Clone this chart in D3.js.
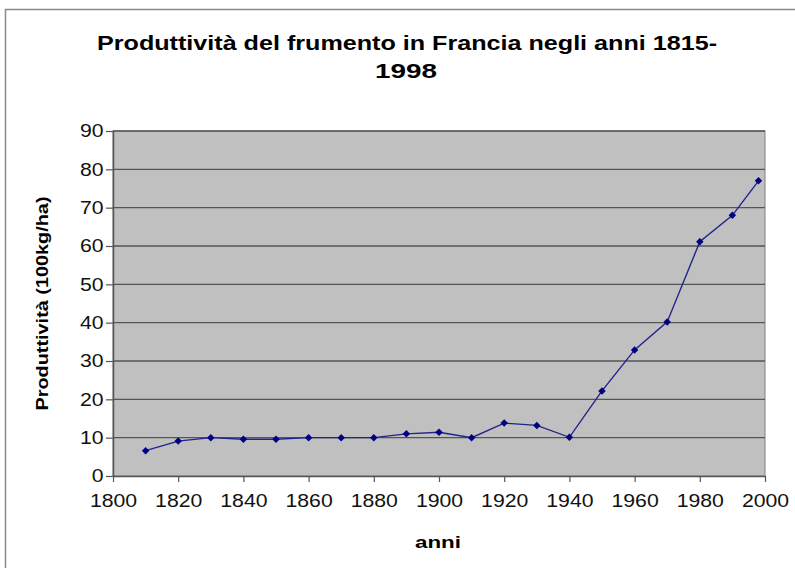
<!DOCTYPE html>
<html>
<head>
<meta charset="utf-8">
<script src="https://cdn.jsdelivr.net/npm/d3@7"></script>
<style>
  body { margin: 0; background: #fff; }
  text { font-family: "Liberation Sans", Arial, sans-serif; }
</style>
</head>
<body>
<div id="chart"></div>
<script>
// anni e produttività (100kg/ha)
var years = [1810, 1820, 1830, 1840, 1850, 1860, 1870, 1880, 1890, 1900,
             1910, 1920, 1930, 1940, 1950, 1960, 1970, 1980, 1990, 1998];
var yields = [6.6, 9.1, 10, 9.6, 9.6, 10, 10, 10, 11, 11.4,
              10, 13.8, 13.2, 10.1, 22.2, 32.9, 40.2, 61.1, 68, 77];
var xTicks = [1800, 1820, 1840, 1860, 1880, 1900, 1920, 1940, 1960, 1980, 2000];
var yTicks = [0, 10, 20, 30, 40, 50, 60, 70, 80, 90];

var width = 795, height = 568;
var margin = {left: 113, right: 30, top: 131, bottom: 92};

var svg = d3.select("#chart").append("svg")
            .attr("width", width)
            .attr("height", height);

// cornice esterna
svg.append("rect")
   .attr("x", 5.5).attr("y", 9.5)
   .attr("width", 820).attr("height", 620)
   .attr("fill", "none")
   .attr("stroke", "#8a8a8a")
   .attr("stroke-width", 1.5);

var x = d3.scaleLinear().domain([1800, 2000]).range([margin.left, width - margin.right]);
var y = d3.scaleLinear().domain([0, 90]).range([height - margin.bottom, margin.top]);

// area del grafico
svg.append("rect")
   .attr("x", x(1800)).attr("y", y(90))
   .attr("width", x(2000) - x(1800))
   .attr("height", y(0) - y(90))
   .attr("fill", "#c0c0c0")
   .attr("stroke", "#808080");

// griglia
svg.selectAll("line.grid")
   .data(yTicks.slice(1))
   .enter().append("line")
   .attr("class", "grid")
   .attr("x1", x(1800)).attr("x2", x(2000))
   .attr("y1", function(d) {return y(d)})
   .attr("y2", function(d) {return y(d)})
   .attr("stroke", "#555")
   .attr("stroke-width", 1.3);

var xAxis = svg.append("g")
   .attr("transform", "translate(0," + y(0) + ")")
   .call(d3.axisBottom(x).tickValues(xTicks).tickFormat(d3.format("d")).tickSize(6).tickSizeOuter(0));

var yAxis = svg.append("g")
   .attr("transform", "translate(" + x(1800) + ",0)")
   .call(d3.axisLeft(y).tickValues(yTicks).tickSize(7).tickSizeOuter(0));

[xAxis, yAxis].forEach(function(a) {
  a.select(".domain").attr("stroke", "#555").attr("stroke-width", 1.5);
  a.selectAll(".tick line").attr("stroke", "#555").attr("stroke-width", 1.2);
  a.selectAll(".tick text")
   .attr("font-family", "Liberation Sans, Arial, sans-serif")
   .attr("font-size", 18)
   .attr("fill", "#111")
   .attr("transform", "scale(1.18,1)");
});
xAxis.selectAll(".tick text").attr("dy", "1.2em");
yAxis.selectAll(".tick text").attr("x", -8);

// linea
var line = d3.line()
  .x(function(d, i) {return x(years[i])})
  .y(function(d) {return y(d)});

svg.append("path")
   .datum(yields)
   .attr("d", line)
   .attr("fill", "none")
   .attr("stroke", "#22228c")
   .attr("stroke-width", 1.4);

svg.selectAll("path.marker")
   .data(yields)
   .enter().append("path")
   .attr("class", "marker")
   .attr("d", d3.symbol().type(d3.symbolSquare).size(28))
   .attr("transform", function(d, i) {return "translate(" + x(years[i]) + "," + y(d) + ") rotate(45)"})
   .attr("fill", "#000080");

// titoli
svg.append("text")
   .attr("x", 407).attr("y", 50)
   .attr("text-anchor", "middle")
   .attr("font-size", 20).attr("font-weight", "bold")
   .attr("textLength", 620).attr("lengthAdjust", "spacingAndGlyphs")
   .text("Produttività del frumento in Francia negli anni 1815-");
svg.append("text")
   .attr("x", 406).attr("y", 78)
   .attr("text-anchor", "middle")
   .attr("font-size", 20).attr("font-weight", "bold")
   .attr("textLength", 62).attr("lengthAdjust", "spacingAndGlyphs")
   .text("1998");

svg.append("text")
   .attr("x", 438).attr("y", 548)
   .attr("text-anchor", "middle")
   .attr("font-size", 17).attr("font-weight", "bold")
   .attr("textLength", 46).attr("lengthAdjust", "spacingAndGlyphs")
   .text("anni");

svg.append("text")
   .attr("transform", "translate(48," + ((y(0) + y(90)) / 2) + ") rotate(-90)")
   .attr("text-anchor", "middle")
   .attr("font-size", 16).attr("font-weight", "bold")
   .attr("textLength", 214).attr("lengthAdjust", "spacingAndGlyphs")
   .text("Produttività (100kg/ha)");
</script>
</body>
</html>
